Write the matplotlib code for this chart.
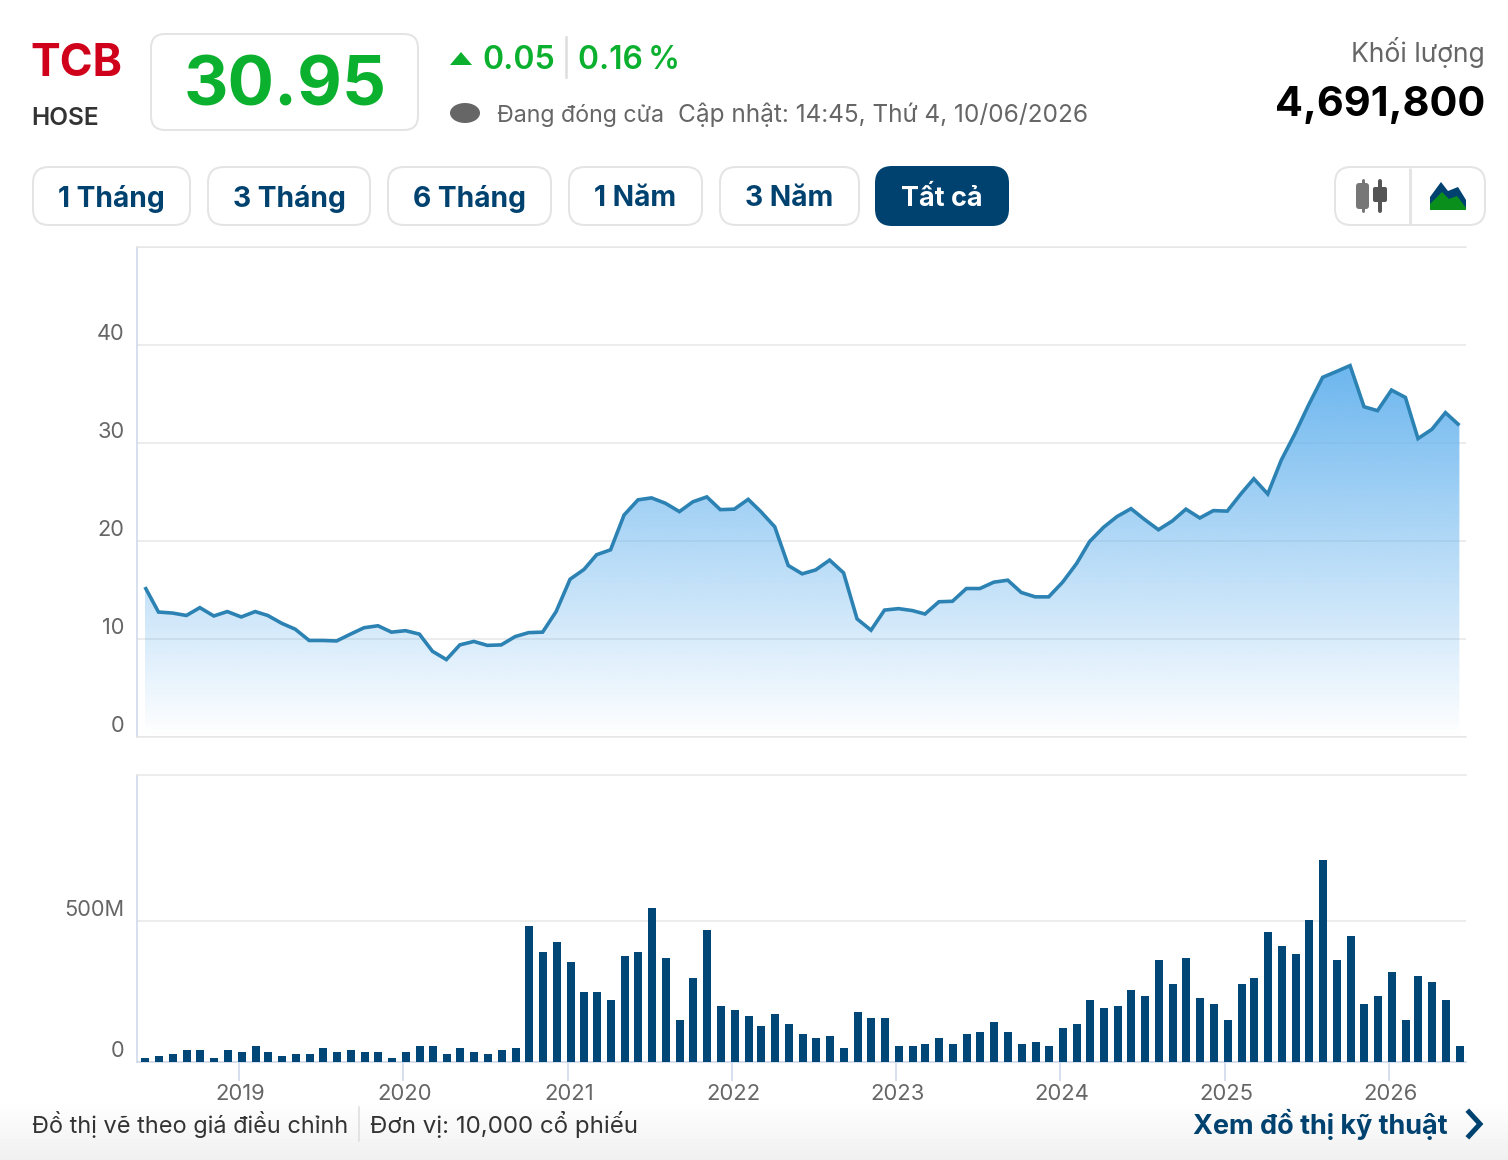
import numpy as np
import pandas as pd
import matplotlib
matplotlib.use('Agg')
import matplotlib.pyplot as plt
import matplotlib.dates as mdates
from matplotlib.patches import FancyBboxPatch, Polygon, Ellipse
from matplotlib.transforms import ScaledTranslation

plt.rcParams['font.family'] = ['Inter', 'Noto Sans', 'DejaVu Sans']

W, H = 1508, 1160

# monthly values, june 2018 to june 2026
price = [15.3, 12.75, 12.65, 12.4, 13.2, 12.35, 12.8, 12.25, 12.8, 12.4, 11.6, 11.0, 9.85, 9.85, 9.8, 10.5,
         11.15, 11.35, 10.7, 10.85, 10.5, 8.75, 7.9, 9.4, 9.75, 9.35, 9.4, 10.25, 10.65, 10.7, 12.8, 16.1,
         17.1, 18.6, 19.1, 22.65, 24.2, 24.4, 23.85, 23.0, 24.0, 24.5, 23.2, 23.25, 24.25, 23.0, 21.45, 17.5,
         16.65, 17.05, 18.05, 16.75, 12.05, 10.9, 12.95, 13.1, 12.9, 12.55, 13.8, 13.85, 15.15, 15.15, 15.8, 16.0,
         14.75, 14.3, 14.3, 15.8, 17.7, 19.95, 21.4, 22.5, 23.3, 22.2, 21.15, 22.05, 23.25, 22.35, 23.1, 23.05,
         24.85, 26.35, 24.8, 28.25, 31.0, 33.9, 36.7, 37.3, 37.9, 33.7, 33.3, 35.4, 34.65, 30.45, 31.4, 33.1, 31.8]
volume = [14, 21, 28, 43, 43, 14, 43, 35, 57, 35, 21, 28, 28, 50, 35, 43,
          35, 35, 14, 35, 57, 57, 28, 50, 35, 28, 43, 50, 482, 390, 426, 355,
          248, 248, 220, 376, 390, 546, 369, 149, 298, 468, 199, 184, 163, 128, 170, 135,
          99, 85, 92, 50, 177, 156, 156, 57, 57, 64, 85, 64, 99, 106, 142, 106,
          64, 71, 57, 121, 135, 220, 191, 199, 255, 234, 362, 277, 369, 227, 206, 149,
          277, 298, 461, 411, 383, 504, 716, 362, 447, 206, 234, 319, 149, 305, 284, 220, 57]
years = [2019, 2020, 2021, 2022, 2023, 2024, 2025, 2026]
price_ticks = [0, 10, 20, 30, 40, 50]
price_labels = ['0', '10', '20', '30', '40', '']
vol_ticks = [0, 500]
vol_labels = ['0', '500M']
range_buttons = ['1 Tháng', '3 Tháng', '6 Tháng', '1 Năm', '3 Năm', 'Tất cả']

months = pd.date_range('2018-06-01', periods=len(price), freq='MS')
x_line = mdates.date2num(months + pd.Timedelta(days=5))
x_bar = mdates.date2num(months + pd.Timedelta(days=6))
year_x = mdates.date2num([pd.Timestamp(y, 1, 1) for y in years])

GREEN = '#0bb02e'
NAVY = '#00426f'
GRID = '#e6e6e6'
AXIS = '#ccd6eb'
GREY = '#666666'
DARK = '#333333'


def pt(px):
    return px * 72 / 100


def px_axes(left, top, right, bottom):
    return fig.add_axes([left / W, 1 - bottom / H, (right - left) / W, (bottom - top) / H])


def box(l, t, r, b, rad=14, face='white', edge='#e4e4e4', lw=2):
    ui.add_patch(FancyBboxPatch((l + rad, t + rad), r - l - 2 * rad, b - t - 2 * rad,
                                boxstyle='round,pad=%d,rounding_size=%d' % (rad, rad),
                                fc=face, ec=edge, lw=pt(lw)))


def label(px_x, px_y, s, size, color=DARK, weight='normal', ha='left'):
    ui.text(px_x, px_y, s, fontsize=pt(size), color=color, fontweight=weight, ha=ha, va='center_baseline')


fig = plt.figure(figsize=(W / 100, H / 100), dpi=100, facecolor='white')

# page layer in pixel coords
ui = fig.add_axes([0, 0, 1, 1])
ui.set_xlim(0, W)
ui.set_ylim(H, 0)
ui.axis('off')
shade = np.linspace(1, 0.94, 60).reshape(-1, 1)
ui.imshow(shade, extent=[0, W, 1160, 1100], cmap='gray', vmin=0, vmax=1, aspect='auto', origin='upper')
ui.set_xlim(0, W)
ui.set_ylim(H, 0)

label(30, 60, 'TCB', 44.5, '#d0021b', 'bold')
label(31, 116, 'HOSE', 24.5, DARK, 'semibold')
box(151, 34, 418, 130)
label(285, 80, '30.95', 69, GREEN, 'bold', 'center')
ui.add_patch(Polygon([(450, 65), (461, 52), (472, 65)], fc=GREEN, ec='none'))
label(482, 57, '0.05', 32, GREEN, 'semibold')
ui.plot([566, 566], [37, 77], color='#dddddd', lw=pt(2.5))
label(578, 57, '0.16\u2009%', 31.7, GREEN, 'semibold')
ui.add_patch(Ellipse((465, 113), 30, 20, fc=GREY, ec='none'))
label(497, 113, 'Đang đóng cửa', 23.2, GREY)
label(678, 112, 'Cập nhật: 14:45, Thứ 4, 10/06/2026', 24.4, GREY)
label(1485, 49, 'Khối lượng', 26.5, GREY, 'normal', 'right')
label(1485, 101, '4,691,800', 41.5, 'black', 'bold', 'right')

button_edges = [(33, 190), (208, 370), (388, 551), (569, 702), (720, 859), (876, 1008)]
for (l, r), s in zip(button_edges, range_buttons):
    active = s == 'Tất cả'
    box(l, 167, r, 225, 16, NAVY if active else 'white', NAVY if active else '#e4e4e4')
    label((l + r) / 2, 196, s, 27 if active else 28.2, 'white' if active else NAVY, 'bold', 'center')

box(1335, 167, 1485, 225, 16)
ui.plot([1410, 1410], [168, 224], color='#e4e4e4', lw=pt(3), solid_capstyle='butt')
ui.plot([1362.5, 1362.5], [180, 211], color='#777777', lw=pt(3), solid_capstyle='round')
ui.add_patch(FancyBboxPatch((1356, 183), 13, 26, boxstyle='round,pad=0,rounding_size=3', fc='#777777', ec='none'))
ui.plot([1380, 1380], [181, 211], color='#555555', lw=pt(4), solid_capstyle='round')
ui.add_patch(FancyBboxPatch((1373, 187), 14, 15, boxstyle='round,pad=0,rounding_size=2', fc='#555555', ec='none'))
ui.add_patch(Polygon([(1430, 197), (1441, 182), (1448, 191), (1458, 187), (1466, 200), (1466, 210), (1430, 210)],
                     fc='#00426f', ec='none'))
ui.add_patch(Polygon([(1430, 204), (1442, 192), (1449, 199), (1457, 196), (1466, 208), (1466, 210), (1430, 210)],
                     fc='#0a8f1c', ec='none'))

label(32, 1122, 'Đồ thị vẽ theo giá điều chỉnh', 23.5, DARK)
ui.plot([359, 359], [1107, 1141], color='#dddddd', lw=pt(1.5))
label(370, 1122, 'Đơn vị: 10,000 cổ phiếu', 24.1, DARK)
label(1448, 1121, 'Xem đồ thị kỹ thuật', 27, NAVY, 'bold', 'right')
ui.plot([1469, 1480, 1469], [1112, 1124, 1136], color=NAVY, lw=pt(5), solid_joinstyle='miter')

# x limits come from the pixels of the 2019 tick and the year width
px_per_day = 164.3 / 365.25
x_left = year_x[0] - (239 - 137) / px_per_day
x_right = year_x[0] + (1466 - 239) / px_per_day

# price panel
ax = px_axes(137, 247, 1466, 737)
ax.patch.set_alpha(0)
area = ax.fill_between(x_line, 0, price, facecolor='none', edgecolor='none')
fade = np.zeros((256, 1, 4))
fade[:, :, 0], fade[:, :, 1], fade[:, :, 2] = 100 / 255, 178 / 255, 238 / 255
fade[:, 0, 3] = np.linspace(0.95, 0, 256)
img = ax.imshow(fade, extent=[x_line[0], x_line[-1], 0, max(price)], aspect='auto', origin='upper', zorder=2)
img.set_clip_path(area.get_paths()[0], ax.transData)
ax.plot(x_line, price, color='#2b82b3', lw=pt(3.6), zorder=3, solid_joinstyle='miter', solid_capstyle='butt')
ax.set_xlim(x_left, x_right)
ax.set_ylim(0, 50)
ax.set_xticks([])
ax.set_yticks(price_ticks)
ax.set_yticklabels(price_labels)
ax.grid(axis='y', color=GRID, lw=pt(1.5), zorder=0)
ax.set_axisbelow(True)

# volume panel
ax2 = px_axes(137, 775, 1466, 1062)
ax2.patch.set_alpha(0)
ax2.bar(x_bar, volume, width=8 / px_per_day, color='#004677', zorder=3)
ax2.set_xlim(x_left, x_right)
ax2.set_ylim(0, 1018)
ax2.set_yticks(vol_ticks)
ax2.set_yticklabels(vol_labels)
ax2.set_xticks(year_x)
ax2.set_xticklabels([str(y) for y in years])
ax2.grid(axis='y', color=GRID, lw=pt(1.5), zorder=0)
ax2.set_axisbelow(True)
ax2.tick_params(axis='x', length=pt(19), width=pt(1.5), color=AXIS, labelsize=pt(22), labelcolor=GREY, pad=pt(3))
for lbl in ax2.get_xticklabels():
    lbl.set_transform(lbl.get_transform() + ScaledTranslation(1 / 100, 0, fig.dpi_scale_trans))

for a in (ax, ax2):
    a.tick_params(axis='y', length=0, pad=pt(12.5), labelsize=pt(21.8), labelcolor=GREY)
    a.spines['right'].set_visible(False)
    a.spines['left'].set_color(AXIS)
    a.spines['left'].set_linewidth(pt(1.5))
    a.spines['top'].set_color(GRID)
    a.spines['top'].set_linewidth(pt(1.5))
    a.spines['bottom'].set_linewidth(pt(1.5))
    for lbl in a.get_yticklabels():
        lbl.set_transform(lbl.get_transform() + ScaledTranslation(0, 13 / 100, fig.dpi_scale_trans))
ax.spines['bottom'].set_color(GRID)
ax2.spines['bottom'].set_color(AXIS)

fig.savefig('out.png', dpi=100)
